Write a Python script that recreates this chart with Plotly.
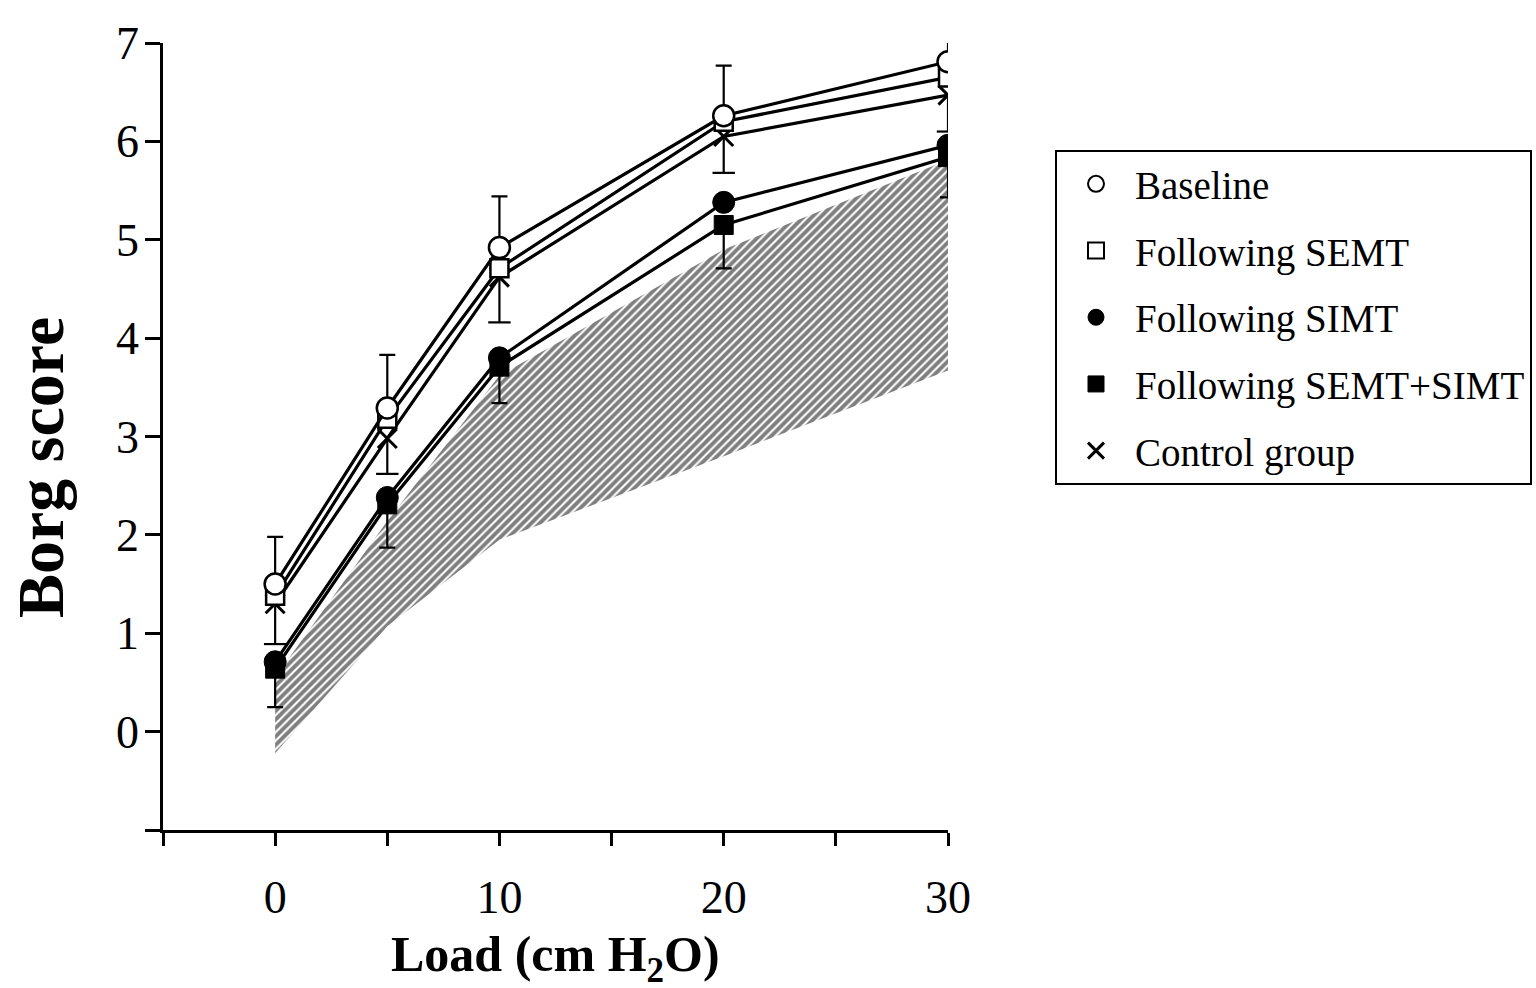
import plotly.graph_objects as go

# ---- data ----
load = [0, 5, 10, 20, 30]
baseline = [1.50, 3.29, 4.92, 6.26, 6.81]
following_semt = [1.38, 3.18, 4.71, 6.20, 6.65]
following_simt = [0.71, 2.38, 3.80, 5.38, 5.96]
following_semt_simt = [0.64, 2.31, 3.71, 5.15, 5.84]
control_group = [1.30, 2.98, 4.62, 6.05, 6.47]

baseline_err_up = [0.48, 0.54, 0.52, 0.51, 0.51]
control_err_down = [0.41, 0.36, 0.46, 0.37, 0.37]
semt_simt_err_down = [0.39, 0.44, 0.37, 0.44, 0.41]

normal_low = [-0.22, 1.07, 1.95, 2.80, 3.67]
normal_high = [0.55, 2.14, 3.62, 4.90, 5.81]

x_tickvals = [-5, 0, 5, 10, 15, 20, 25, 30]
x_ticktext = ["", "0", "", "10", "", "20", "", "30"]
y_tickvals = [-1, 0, 1, 2, 3, 4, 5, 6, 7]
y_ticktext = ["", "0", "1", "2", "3", "4", "5", "6", "7"]

FONT = "Liberation Serif, Times New Roman, serif"
LW = 3.2

fig = go.Figure()

# hatched normal band
fig.add_trace(go.Scatter(x=load, y=normal_low, mode="lines", line=dict(width=0),
                         showlegend=False, hoverinfo="skip"))
fig.add_trace(go.Scatter(x=load, y=normal_high, mode="lines", line=dict(width=0),
                         fill="tonexty", fillcolor="rgba(0,0,0,0)",
                         fillpattern=dict(shape="/", size=6, solidity=0.65,
                                          fgcolor="black", bgcolor="white"),
                         showlegend=False, hoverinfo="skip"))

# control group (error bar without caps; lower cap drawn as a line marker)
fig.add_trace(go.Scatter(
    x=load, y=control_group, mode="lines+markers", showlegend=False,
    line=dict(color="black", width=LW),
    marker=dict(symbol="x-thin", size=19, line=dict(color="black", width=3)),
    error_y=dict(type="data", symmetric=False, array=[0] * len(load),
                 arrayminus=control_err_down, width=0, thickness=2.2, color="black")))
fig.add_trace(go.Scatter(
    x=load, y=[c - e for c, e in zip(control_group, control_err_down)],
    mode="markers", showlegend=False, hoverinfo="skip",
    marker=dict(symbol="line-ew", size=16, line=dict(color="black", width=2.2))))

# following SEMT+SIMT
fig.add_trace(go.Scatter(
    x=load, y=following_semt_simt, mode="lines+markers", showlegend=False,
    line=dict(color="black", width=LW),
    marker=dict(symbol="square", size=19, color="black", line=dict(color="black", width=1)),
    error_y=dict(type="data", symmetric=False, array=[0] * len(load),
                 arrayminus=semt_simt_err_down, width=8, thickness=2.2, color="black")))

# following SIMT
fig.add_trace(go.Scatter(
    x=load, y=following_simt, mode="lines+markers", showlegend=False,
    line=dict(color="black", width=LW),
    marker=dict(symbol="circle", size=22, color="black", line=dict(color="black", width=1))))

# following SEMT
fig.add_trace(go.Scatter(
    x=load, y=following_semt, mode="lines+markers", showlegend=False,
    line=dict(color="black", width=LW),
    marker=dict(symbol="square", size=18, color="white", line=dict(color="black", width=2.5))))

# baseline
fig.add_trace(go.Scatter(
    x=load, y=baseline, mode="lines+markers", showlegend=False,
    line=dict(color="black", width=LW),
    marker=dict(symbol="circle", size=21, color="white", line=dict(color="black", width=2.5)),
    error_y=dict(type="data", symmetric=False, array=baseline_err_up,
                 arrayminus=[0] * len(load), width=8, thickness=2.2, color="black")))

# legend entries (markers only)
legend_items = [
    ("Baseline", "circle", "white", 2),
    ("Following SEMT", "square", "white", 2),
    ("Following SIMT", "circle", "black", 1),
    ("Following SEMT+SIMT", "square", "black", 1),
    ("Control group", "x-thin", "black", 3),
]
for i, (name, sym, col, lw) in enumerate(legend_items):
    fig.add_trace(go.Scatter(
        x=[None], y=[None], mode="markers", name=name, legendgroup=str(i),
        marker=dict(symbol=sym, size=16, color=col, line=dict(color="black", width=lw))))

fig.update_layout(
    width=1536, height=988,
    margin=dict(l=163, r=588, t=43, b=158, autoexpand=False),
    paper_bgcolor="white", plot_bgcolor="white",
    font=dict(family=FONT, color="black", size=46),
    showlegend=True,
    legend=dict(xref="container", yref="container", x=1055 / 1536, y=1 - 150 / 988,
                xanchor="left", yanchor="top",
                bordercolor="black", borderwidth=2, bgcolor="white",
                font=dict(family=FONT, size=39, color="black"),
                traceorder="grouped", tracegroupgap=13, itemwidth=68),
    xaxis=dict(range=[-5, 30], tickmode="array", tickvals=x_tickvals, ticktext=x_ticktext,
               showline=True, linecolor="black", linewidth=2.5, ticks="outside",
               ticklen=13, tickwidth=2.5, tickcolor="black", showgrid=False, zeroline=False,
               ticklabelstandoff=12, tickfont=dict(family=FONT, size=46)),
    yaxis=dict(range=[-1, 7], tickmode="array", tickvals=y_tickvals, ticktext=y_ticktext,
               showline=True, linecolor="black", linewidth=2.5, ticks="outside",
               ticklen=15, tickwidth=2.5, tickcolor="black", showgrid=False, zeroline=False,
               ticklabelstandoff=-3, tickfont=dict(family=FONT, size=46)),
    annotations=[
        dict(text="<b>Borg score</b>", xref="paper", yref="paper", x=-0.157, y=0.461,
             xanchor="center", yanchor="middle", textangle=-90, showarrow=False,
             font=dict(family=FONT, size=66, color="black")),
        dict(text="<b>Load (cm H<sub>2</sub>O)</b>", xref="paper", yref="paper", x=0.5,
             y=-0.163, xanchor="center", yanchor="middle", showarrow=False,
             font=dict(family=FONT, size=50, color="black")),
    ],
)

fig.write_html("out.html", config={"displayModeBar": False},
               post_script="document.body.style.margin='0px';document.body.style.overflow='hidden';")
